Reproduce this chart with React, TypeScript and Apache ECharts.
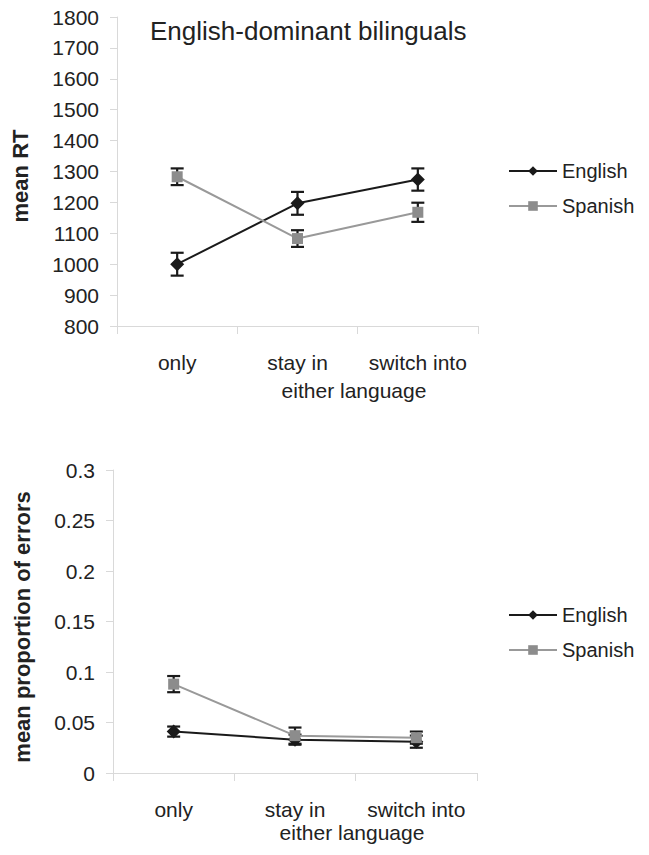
import React, { useEffect, useRef } from "react";
import * as echarts from "echarts";

const categories = ["only", "stay in", "switch into"];
const rtTicks = [800, 1800, 100];
const errTicks = [0, 0.3, 0.05];

const rtEnglish = [1000, 1197, 1274];
const rtEnglishErr = [37, 37, 36];
const rtSpanish = [1283, 1083, 1168];
const rtSpanishErr = [27, 27, 31];

const errEnglish = [0.041, 0.033, 0.031];
const errEnglishErr = [0.005, 0.005, 0.006];
const errSpanish = [0.088, 0.037, 0.035];
const errSpanishErr = [0.008, 0.008, 0.006];

const FONT = "Liberation Sans, Arial, sans-serif";
const AXIS_GRAY = "#d9d9d9";
const TEXT = "#222";
const ENG_COLOR = "#1a1a1a";
const SPA_COLOR = "#999999";
const SPA_MARK = "#8c8c8c";

function errData(vals: number[], errs: number[]) {
  return vals.map((v, i) => [i, v - errs[i], v + errs[i]]);
}

function errorSeries(name: string, idx: number, vals: number[], errs: number[]) {
  return {
    type: "custom",
    name: name + "-err",
    xAxisIndex: idx,
    yAxisIndex: idx,
    z: 1,
    silent: true,
    encode: { x: 0, y: [1, 2] },
    data: errData(vals, errs),
    renderItem: (params: any, api: any) => {
      const x = api.value(0);
      const lo = api.value(1);
      const hi = api.value(2);
      const pHi = api.coord([x, hi]);
      const pLo = api.coord([x, lo]);
      const w = 6.5;
      const st = { stroke: "#1a1a1a", lineWidth: 2.2 };
      return {
        type: "group",
        children: [
          { type: "line", shape: { x1: pHi[0], y1: pHi[1], x2: pLo[0], y2: pLo[1] }, style: st },
          { type: "line", shape: { x1: pHi[0] - w, y1: pHi[1], x2: pHi[0] + w, y2: pHi[1] }, style: st },
          { type: "line", shape: { x1: pLo[0] - w, y1: pLo[1], x2: pLo[0] + w, y2: pLo[1] }, style: st },
        ],
      };
    },
  };
}

function lineSeries(name: string, idx: number, vals: number[], eng: boolean) {
  return {
    type: "line",
    name,
    xAxisIndex: idx,
    yAxisIndex: idx,
    z: 3,
    data: vals,
    symbol: eng ? "diamond" : "rect",
    symbolSize: eng ? 14 : 11,
    lineStyle: { color: eng ? ENG_COLOR : SPA_COLOR, width: 2 },
    itemStyle: { color: eng ? ENG_COLOR : SPA_MARK },
  };
}

function xAxisCfg(idx: number) {
  return {
    type: "category",
    gridIndex: idx,
    data: categories,
    boundaryGap: true,
    axisLine: { show: true, onZero: false, lineStyle: { color: AXIS_GRAY, width: 1 } },
    axisTick: { show: true, length: 8, lineStyle: { color: AXIS_GRAY } },
    axisLabel: { fontSize: 21, color: TEXT, fontFamily: FONT, margin: 26, interval: 0, hideOverlap: false },
    splitLine: { show: false },
  };
}

function yAxisCfg(idx: number, ticks: number[]) {
  return {
    type: "value",
    gridIndex: idx,
    min: ticks[0],
    max: ticks[1],
    interval: ticks[2],
    axisLine: { show: true, lineStyle: { color: AXIS_GRAY, width: 1 } },
    axisTick: { show: true, length: 7, lineStyle: { color: AXIS_GRAY } },
    axisLabel: {
      fontSize: 21,
      color: TEXT,
      fontFamily: FONT,
      margin: 18,
      formatter: (v: number) => String(Math.round(v * 1000) / 1000),
    },
    splitLine: { show: false },
  };
}

function legendCfg(top: number) {
  return {
    orient: "vertical",
    left: 503,
    top,
    itemWidth: 48,
    itemHeight: 12,
    itemGap: 15,
    data: ["English", "Spanish"],
    textStyle: { fontSize: 20, color: TEXT, fontFamily: FONT },
    selectedMode: false,
  };
}

export default function App() {
  const ref = useRef<HTMLDivElement>(null);
  useEffect(() => {
    document.body.style.margin = "0";
    if (!ref.current) return;
    const chart = echarts.init(ref.current, null, { renderer: "svg" });
    chart.setOption({
      animation: false,
      backgroundColor: "#ffffff",
      textStyle: { fontFamily: FONT },
      grid: [
        { left: 117, top: 17, width: 361, height: 309 },
        { left: 113, top: 470, width: 364, height: 303 },
      ],
      xAxis: [xAxisCfg(0), xAxisCfg(1)],
      yAxis: [yAxisCfg(0, rtTicks), yAxisCfg(1, errTicks)],
      legend: [legendCfg(156), legendCfg(600)],
      graphic: [
        {
          type: "text",
          x: 150,
          y: 31,
          style: { text: "English-dominant bilinguals", fontSize: 26, fill: TEXT, fontFamily: FONT, textAlign: "left", textVerticalAlign: "middle" },
        },
        {
          type: "text",
          x: 20,
          y: 176,
          rotation: Math.PI / 2,
          style: { text: "mean RT", fontSize: 22, fontWeight: "bold", fill: TEXT, fontFamily: FONT, textAlign: "center", textVerticalAlign: "middle" },
        },
        {
          type: "text",
          x: 354,
          y: 390,
          style: { text: "either language", fontSize: 21, fill: TEXT, fontFamily: FONT, textAlign: "center", textVerticalAlign: "middle" },
        },
        {
          type: "text",
          x: 22,
          y: 627,
          rotation: Math.PI / 2,
          style: { text: "mean proportion of errors", fontSize: 22, fontWeight: "bold", fill: TEXT, fontFamily: FONT, textAlign: "center", textVerticalAlign: "middle" },
        },
        {
          type: "text",
          x: 352,
          y: 832,
          style: { text: "either language", fontSize: 21, fill: TEXT, fontFamily: FONT, textAlign: "center", textVerticalAlign: "middle" },
        },
      ],
      series: [
        errorSeries("English", 0, rtEnglish, rtEnglishErr),
        errorSeries("Spanish", 0, rtSpanish, rtSpanishErr),
        lineSeries("English", 0, rtEnglish, true),
        lineSeries("Spanish", 0, rtSpanish, false),
        errorSeries("English", 1, errEnglish, errEnglishErr),
        errorSeries("Spanish", 1, errSpanish, errSpanishErr),
        lineSeries("English", 1, errEnglish, true),
        lineSeries("Spanish", 1, errSpanish, false),
      ],
    });
    return () => chart.dispose();
  }, []);
  return <div ref={ref} style={{ width: 649, height: 855 }} />;
}
